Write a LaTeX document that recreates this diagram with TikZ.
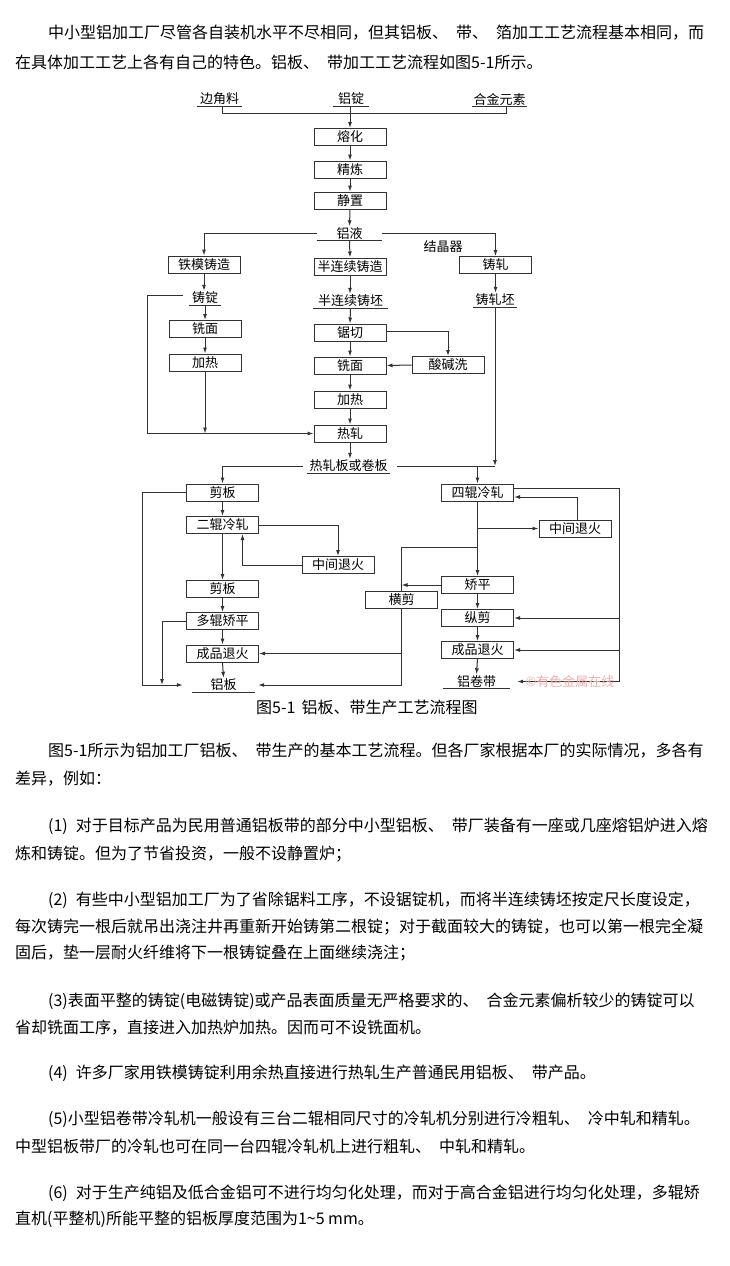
\documentclass[tikz,border=0pt]{standalone}
\usepackage{fontspec}
\setmainfont{Noto Sans CJK SC}
\usetikzlibrary{arrows.meta,calc}
\definecolor{lc}{RGB}{50,50,50}
\definecolor{wm}{RGB}{240,175,175}
\newcommand\dgfont{\fontsize{13pt}{15pt}\selectfont}
\newcommand\bdfont{\fontsize{16pt}{18pt}\selectfont}
\newcommand\wmfont{\fontsize{13pt}{15pt}\selectfont}
\newcommand\sps{\hspace{8pt}}
\tikzset{
  box/.style={draw=lc, line width=1pt, minimum width=72pt, minimum height=17pt, inner sep=0pt, font=\dgfont},
  ul/.style={minimum width=#1, minimum height=14pt, inner sep=0pt, font=\dgfont,
    append after command={(\tikzlastnode.south west) edge[draw=lc, line width=1pt] (\tikzlastnode.south east)}},
  ln/.style={draw=lc, line width=1pt},
  ar/.style={ln, -{Latex[length=6pt,width=4pt]}},
  bt/.style={anchor=west, inner sep=0pt, font=\bdfont},
  plain/.style={inner sep=0pt, font=\dgfont},
}
\begin{document}
\begin{tikzpicture}[x=1pt,y=-1pt]
\useasboundingbox (0,0) rectangle (730,1266);
\fill[white] (0,0) rectangle (730,1266);

% ---------- body text ----------
\node[bt] (t1) at (48,33) {中小型铝加工厂尽管各自装机水平不尽相同，但其铝板、\sps 带、\sps 箔加工工艺流程基本相同，而};
\node[bt] (t2) at (15,62) {在具体加工工艺上各有自己的特色。铝板、\sps 带加工工艺流程如图5-1所示。};
\node[bt] (t3) at (48,751) {图5-1所示为铝加工厂铝板、\sps 带生产的基本工艺流程。但各厂家根据本厂的实际情况，多各有};
\node[bt] (t4) at (15,779) {差异，例如：};
\node[bt] (t5) at (48,826) {(1)\sps 对于目标产品为民用普通铝板带的部分中小型铝板、\sps 带厂装备有一座或几座熔铝炉进入熔};
\node[bt] (t6) at (15,854) {炼和铸锭。但为了节省投资，一般不设静置炉；};
\node[bt] (t7) at (48,900) {(2)\sps 有些中小型铝加工厂为了省除锯料工序，不设锯锭机，而将半连续铸坯按定尺长度设定，};
\node[bt] (t8) at (15,927) {每次铸完一根后就吊出浇注井再重新开始铸第二根锭；对于截面较大的铸锭，也可以第一根完全凝};
\node[bt] (t9) at (15,953) {固后，垫一层耐火纤维将下一根铸锭叠在上面继续浇注；};
\node[bt] (t10) at (48,1001) {(3)表面平整的铸锭(电磁铸锭)或产品表面质量无严格要求的、\sps 合金元素偏析较少的铸锭可以};
\node[bt] (t11) at (15,1028) {省却铣面工序，直接进入加热炉加热。因而可不设铣面机。};
\node[bt] (t12) at (48,1073) {(4)\sps 许多厂家用铁模铸锭利用余热直接进行热轧生产普通民用铝板、\sps 带产品。};
\node[bt] (t13) at (48,1119) {(5)小型铝卷带冷轧机一般设有三台二辊相同尺寸的冷轧机分别进行冷粗轧、\sps 冷中轧和精轧。};
\node[bt] (t14) at (15,1146) {中型铝板带厂的冷轧也可在同一台四辊冷轧机上进行粗轧、\sps 中轧和精轧。};
\node[bt] (t15) at (48,1193) {(6)\sps 对于生产纯铝及低合金铝可不进行均匀化处理，而对于高合金铝进行均匀化处理，多辊矫};
\node[bt] (t16) at (15,1219) {直机(平整机)所能平整的铝板厚度范围为1\textasciitilde5 mm。};

% caption
\node[bt] (cap) at (256,707) {图5-1\hspace{6pt}铝板、带生产工艺流程图};

% ---------- diagram nodes ----------
\node[ul=45pt] (bjl) at (219.5,99) {边角料};
\node[ul=36pt] (ldg) at (351,99) {铝锭};
\node[ul=55pt] (hjys) at (499.5,99) {合金元素};

\node[box] (rh) at (350,137) {熔化};
\node[box] (jl) at (350,169.5) {精炼};
\node[box] (jz) at (350,200.5) {静置};
\node[ul=65pt] (ly) at (349.5,233.5) {铝液};

\node[box] (tm) at (204,264.5) {铁模铸造};
\node[box] (bl) at (350,266.5) {半连续铸造};
\node[box] (zz) at (495.5,265) {铸轧};
\node[plain] (jjq) at (443,247) {结晶器};

\node[ul=32pt] (zd) at (205,298) {铸锭};
\node[ul=75pt] (bp) at (350.5,301) {半连续铸坯};
\node[ul=44pt] (zzp) at (495,300) {铸轧坯};

\node[box] (xm1) at (205,329) {铣面};
\node[box] (jr1) at (205,362.5) {加热};
\node[box] (jq) at (350,332.5) {锯切};
\node[box] (xm2) at (350,365.5) {铣面};
\node[box] (jr2) at (350,399.5) {加热};
\node[box] (rz) at (350,433.5) {热轧};
\node[box] (sjx) at (448,365) {酸碱洗};

\node[ul=83pt] (rzb) at (348.5,466) {热轧板或卷板};

\node[box] (jb1) at (222.5,492.5) {剪板};
\node[box] (eg) at (222.5,525) {二辊冷轧};
\node[box] (zjth1) at (338,565) {中间退火};
\node[box] (jb2) at (222.5,589) {剪板};
\node[box] (dg) at (222.5,621) {多辊矫平};
\node[box] (cpth1) at (222.5,653.5) {成品退火};
\node[ul=63pt] (lb) at (223.5,685) {铝板};

\node[box] (sg) at (477.5,492.5) {四辊冷轧};
\node[box] (zjth2) at (575,528.5) {中间退火};
\node[box] (jp) at (477.5,585) {矫平};
\node[box] (hj2) at (401.5,600) {横剪};
\node[box] (zj) at (477.5,618) {纵剪};
\node[box] (cpth2) at (477.5,650) {成品退火};
\node[ul=67pt] (ljd) at (476.5,681.5) {铝卷带};

\coordinate (rc) at (619,681.5);
\coordinate (hx) at (401.5,547);

% ---------- connectors ----------
\draw[ln] ([xshift=2.5pt]bjl.south) -- ++(0,7) -| ([xshift=6.5pt]hjys.south);
\draw[ar] (rh.north |- ldg.south) -- (rh.north);
\draw[ar] (rh) -- (jl);
\draw[ar] (jl) -- (jz);
\draw[ar] (jz.south) -- (ly.north);
\draw[ar] (ly.west) -| (tm.north);
\draw[ar] (ly.east) -| (zz.north);
\draw[ar] (ly.south) -- (bl.north);

\draw[ar] (tm.south) -- (tm.south |- zd.north);
\draw[ar] (bl.south) -- (bl.south |- bp.north);
\draw[ar] (zz.south) -- (zz.south |- zzp.north);

\draw[ar] (zd.south) -- (xm1.north);
\draw[ar] (xm1) -- (jr1);
\draw[ar] (jr1.south) -- (jr1.south |- rz.west);
\draw[ar] ([xshift=-6pt,yshift=3pt]zd.west) -- ++(-35,0) |- (rz.west);

\draw[ar] (bp.south) -- (jq.north);
\draw[ar] (jq) -- (xm2);
\draw[ar] (xm2) -- (jr2);
\draw[ar] (jr2) -- (rz);
\draw[ar] ([yshift=1.5pt]jq.east) -| (sjx.north);
\draw[ar] (sjx.west) -- (xm2.east);

\draw[ar] (rz.south) -- (rz.south |- rzb.north);
\draw[ar] ([xshift=-4pt]rzb.west) -| (jb1.north);
\draw[ln] ([xshift=7pt]rzb.east) -- (zzp.south |- rzb.east);
\draw[ar] (zzp.south) -- (zzp.south |- rzb.east);
\draw[ar] (sg.north |- rzb.east) -- (sg.north);

% left bottom column
\draw[ar] (jb1) -- (eg);
\draw[ar] (eg.east) -| (zjth1.north);
\draw[ar] (zjth1.west) -| ([xshift=20pt]eg.south);
\draw[ar] (eg) -- (jb2);
\draw[ar] (jb2) -- (dg);
\draw[ar] (dg) -- (cpth1);
\draw[ar] (cpth1.south) -- (lb.north);
\draw[ar] (jb1.west) -- ++(-44,0) |- ([xshift=-9pt]lb.west);
\draw[ar] (dg.west) -- ++(-24,0) coordinate (dgl) -- (dgl |- lb.west);

% right column
\draw[ar] (sg.south) -- (jp.north);
\draw[ar] (sg.south |- zjth2.west) -- (zjth2.west);
\draw[ar] ([xshift=2pt]zjth2.north) |- ([yshift=-4.5pt]sg.east);
\draw[ar] ([yshift=4.5pt]sg.east) -| (rc) -- ([xshift=7pt]ljd.east);
\draw[ar] (zj.east -| rc) -- (zj.east);
\draw[ar] (cpth2.east -| rc) -- (cpth2.east);
\draw[ar] (jp) -- (zj);
\draw[ar] (zj) -- (cpth2);
\draw[ar] (cpth2.south) -- (ljd.north);

\draw[ln] (sg.south |- hx) -- (hx) -- (hj2.north);
\draw[ar] (jp.west) -- (jp.west -| hj2.north);
\draw[ln] (hj2.south) -- (hj2.south |- lb.east);
\draw[ar] (hj2.south |- cpth1.east) -- (cpth1.east);
\draw[ar] (hj2.south |- lb.east) -- ([xshift=3pt]lb.east);

% watermark
\node[inner sep=0pt, font=\wmfont, text=wm] (wmk) at (570,681) {©有色金属在线};
\end{tikzpicture}
\end{document}
